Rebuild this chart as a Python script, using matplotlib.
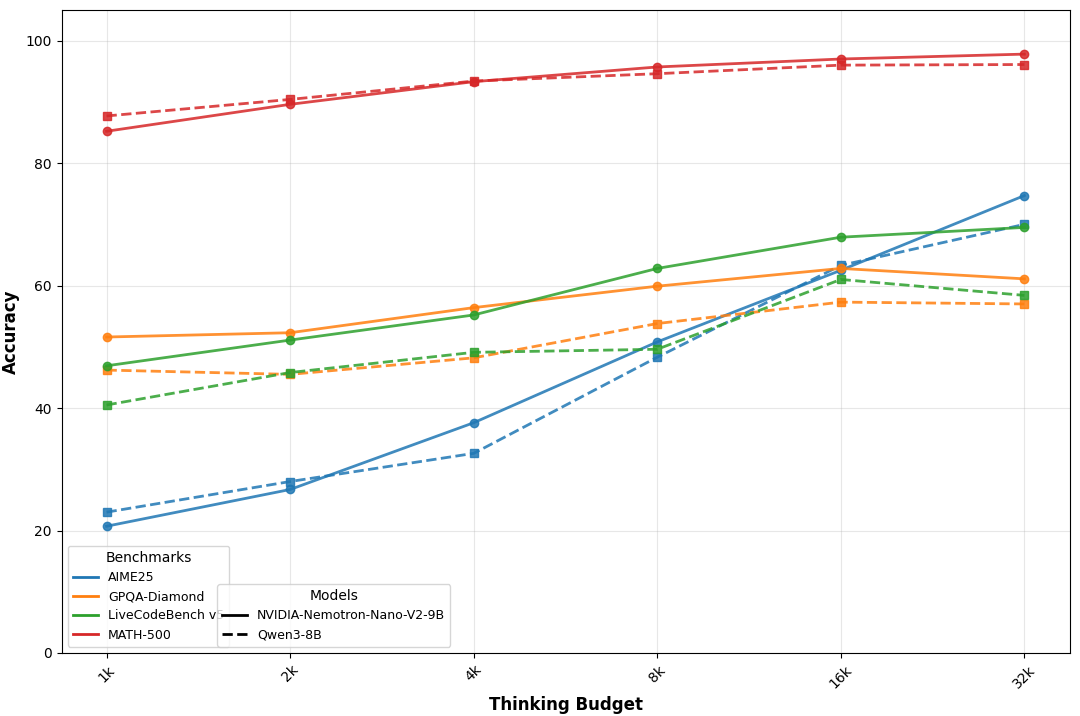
import matplotlib
matplotlib.use("Agg")
import matplotlib.pyplot as plt
from matplotlib.lines import Line2D

budgets = ["1k", "2k", "4k", "8k", "16k", "32k"]
benchmarks = ["AIME25", "GPQA-Diamond", "LiveCodeBench v5", "MATH-500"]
nemotron = {
    "AIME25": [20.7, 26.7, 37.6, 50.8, 62.5, 74.7],
    "GPQA-Diamond": [51.6, 52.3, 56.4, 59.9, 62.8, 61.1],
    "LiveCodeBench v5": [46.9, 51.1, 55.2, 62.8, 67.9, 69.5],
    "MATH-500": [85.2, 89.6, 93.3, 95.7, 97.0, 97.8],
}
qwen = {
    "AIME25": [23.0, 28.0, 32.6, 48.3, 63.3, 70.0],
    "GPQA-Diamond": [46.2, 45.5, 48.2, 53.8, 57.3, 57.0],
    "LiveCodeBench v5": [40.5, 45.8, 49.1, 49.6, 61.0, 58.4],
    "MATH-500": [87.7, 90.4, 93.4, 94.6, 96.0, 96.1],
}
colors = ["#1f77b4", "#ff7f0e", "#2ca02c", "#d62728"]

fig = plt.figure(figsize=(10.8, 7.16), dpi=100)
ax = fig.add_axes([0.057, 0.088, 0.934, 0.898])
x = list(range(len(budgets)))
for b, c in zip(benchmarks, colors):
    ax.plot(x, nemotron[b], "-o", color=c, lw=2, ms=6, alpha=0.85)
    ax.plot(x, qwen[b], "--s", color=c, lw=2, ms=6, alpha=0.85)
ax.set_xticks(x)
ax.set_xticklabels(budgets, rotation=45)
ax.set_xlim(-0.245, 5.25)
ax.set_ylim(0, 105)
ax.set_yticks([0, 20, 40, 60, 80, 100])
ax.grid(True, alpha=0.3)
ax.set_xlabel("Thinking Budget", fontsize=12, fontweight="bold")
ax.set_ylabel("Accuracy", fontsize=12, fontweight="bold")

h1 = [Line2D([], [], color=c, lw=2) for c in colors]
leg1 = ax.legend(h1, benchmarks, title="Benchmarks", loc="lower left", fontsize=9)
ax.add_artist(leg1)
h2 = [Line2D([], [], color="black", lw=2, ls="-"), Line2D([], [], color="black", lw=2, ls="--")]
ax.legend(h2, ["NVIDIA-Nemotron-Nano-V2-9B", "Qwen3-8B"], title="Models",
          loc="lower left", bbox_to_anchor=(0.148, 0.0), fontsize=9)
fig.savefig("out.png", dpi=100)
